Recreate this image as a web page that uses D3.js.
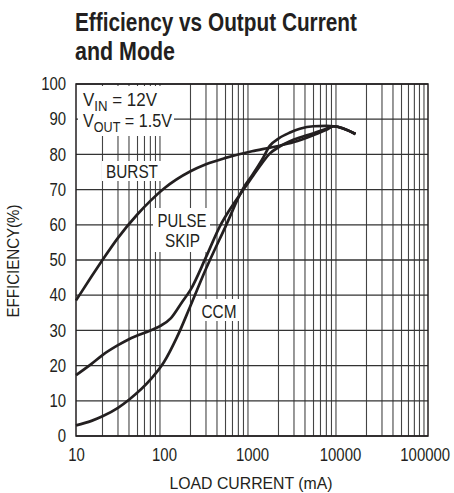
<!DOCTYPE html>
<html>
<head>
<meta charset="utf-8">
<script src="https://cdn.jsdelivr.net/npm/d3@7"></script>
<style>
  body { margin: 0; background: #fff; }
  text { font-family: "Liberation Sans Narrow", "Arial Narrow", "Liberation Sans", sans-serif; fill: #231f20; }
  .title { font-weight: bold; font-size: 26px; }
</style>
</head>
<body>
<div id="chart"></div>
<script>
"use strict";

// values (x = load current mA, y = efficiency %)
var burstCurrent = [10, 15, 20, 30, 50, 70, 100, 200, 300, 500, 1000, 1600, 2000, 3000, 5000, 7000, 8500, 15000];
var burstEff     = [38.5, 45.3, 50, 56.3, 63, 66.8, 70.3, 75.2, 77.2, 79, 80.9, 81.9, 82.4, 83.5, 85.5, 87, 88, 85.8];

var pulseCurrent = [10, 15, 20, 30, 40, 70, 90, 120, 160, 200, 300, 430, 600, 800, 1000, 1300, 1600, 2000, 3000, 5000, 7000, 8500, 15000];
var pulseEff     = [17.3, 20.5, 23, 25.8, 27.5, 30, 31.2, 33.5, 38, 41.5, 50.8, 59.5, 65.5, 70, 73.5, 77.5, 80.3, 82, 84.2, 86, 87.3, 88, 85.8];

var ccmCurrent = [10, 15, 20, 30, 40, 70, 100, 140, 200, 300, 500, 800, 1000, 1300, 1600, 2000, 2700, 3500, 5000, 7000, 8500, 15000];
var ccmEff     = [3, 4.3, 5.6, 8, 10.3, 16, 21, 28, 37, 47.5, 59.5, 70.5, 74, 78.5, 82.5, 84.5, 86.2, 87.3, 88, 88.1, 88, 85.8];

var xTicks = [10, 100, 1000, 10000, 100000];
var yTicks = [0, 10, 20, 30, 40, 50, 60, 70, 80, 90, 100];

var margin = {top: 84, right: 26, bottom: 57, left: 76};
var W = 454, H = 493;
var width = W - margin.left - margin.right;
var height = H - margin.top - margin.bottom;

var svg = d3.select("#chart").append("svg")
    .attr("width", W)
    .attr("height", H);

// title
svg.append("text").attr("class", "title")
    .attr("x", 75).attr("y", 31)
    .attr("textLength", 282).attr("lengthAdjust", "spacingAndGlyphs")
    .text("Efficiency vs Output Current");
svg.append("text").attr("class", "title")
    .attr("x", 75).attr("y", 60)
    .attr("textLength", 100).attr("lengthAdjust", "spacingAndGlyphs")
    .text("and Mode");

var g = svg.append("g")
    .attr("transform", "translate(" + margin.left + "," + margin.top + ")");

var x = d3.scaleLog().domain([10, 100000]).range([0, width]);
var y = d3.scaleLinear().domain([0, 100]).range([height, 0]);

// minor + major vertical grid lines
var vLines = [];
for (var dec = 10; dec < 100000; dec *= 10) {
  for (var k = 2; k <= 9; k++) vLines.push(dec * k);
}
g.selectAll(".vgrid").data(vLines).enter().append("line")
    .attr("x1", function(d) { return x(d); })
    .attr("x2", function(d) { return x(d); })
    .attr("y1", 0).attr("y2", height)
    .attr("stroke", "#444").attr("stroke-width", 1.1);

g.selectAll(".hgrid").data(yTicks).enter().append("line")
    .attr("x1", 0).attr("x2", width)
    .attr("y1", function(d) { return y(d); })
    .attr("y2", function(d) { return y(d); })
    .attr("stroke", "#333").attr("stroke-width", 1.3);

// label boxes knock out the grid
function box(x0, y0, w, h) {
  g.append("rect").attr("x", x0 - margin.left).attr("y", y0 - margin.top)
    .attr("width", w).attr("height", h).attr("fill", "#fff");
}
box(78, 86, 96, 50);
box(102, 161, 60, 20);
box(153, 208, 57, 44);
box(198, 299, 42, 22);

// frame
g.append("rect").attr("width", width).attr("height", height)
    .attr("fill", "none").attr("stroke", "#231f20").attr("stroke-width", 1.5);

// axes: squeeze labels horizontally for the condensed look
var xAxis = d3.axisBottom(x).tickValues(xTicks).tickFormat(d3.format("d")).tickSize(0).tickPadding(12);
var yAxis = d3.axisLeft(y).tickValues(yTicks).tickSize(0).tickPadding(12);

var gx = g.append("g").attr("transform", "translate(0," + height + ")").call(xAxis);
var gy = g.append("g").call(yAxis);
gx.select(".domain").remove();
gy.select(".domain").remove();
[gx, gy].forEach(function(a) {
  a.selectAll("text")
      .style("font-size", "18px")
      .attr("fill", "#231f20")
      .attr("transform", "scale(0.83,1)");
});
// last x label sits a bit left of its gridline, as in the original
gx.selectAll("text").filter(function(d) { return d === 100000; }).attr("dx", -4);

// axis titles
svg.append("text")
    .attr("x", 251).attr("y", 489)
    .attr("text-anchor", "middle")
    .attr("textLength", 163).attr("lengthAdjust", "spacingAndGlyphs")
    .style("font-size", "17px")
    .text("LOAD CURRENT (mA)");
svg.append("text")
    .attr("transform", "translate(19,261) rotate(-90)")
    .attr("text-anchor", "middle")
    .attr("textLength", 113).attr("lengthAdjust", "spacingAndGlyphs")
    .style("font-size", "17px")
    .text("EFFICIENCY(%)");

// curves
var line = d3.line()
    .x(function(d) { return x(d[0]); })
    .y(function(d) { return y(d[1]); })
    .curve(d3.curveMonotoneX);

[[burstCurrent, burstEff], [pulseCurrent, pulseEff], [ccmCurrent, ccmEff]].forEach(function(s) {
  var pts = s[0].map(function(c, i) { return [c, s[1][i]]; });
  g.append("path")
      .attr("d", line(pts))
      .attr("fill", "none")
      .attr("stroke", "#231f20")
      .attr("stroke-width", 2.7)
      .attr("stroke-linejoin", "round");
});

// annotations
function label(txt, lx, ly, len) {
  svg.append("text").attr("x", lx).attr("y", ly).attr("text-anchor", "middle")
      .style("font-size", "18px")
      .attr("textLength", len).attr("lengthAdjust", "spacingAndGlyphs")
      .text(txt);
}

var vin = svg.append("text").attr("x", 83).attr("y", 106).style("font-size", "18px");
vin.append("tspan").text("V");
vin.append("tspan").attr("dy", 5).style("font-size", "14px").text("IN");
vin.append("tspan").attr("dy", -5).text(" = 12V");

var vout = svg.append("text").attr("x", 83).attr("y", 127).style("font-size", "18px");
vout.append("tspan").text("V");
vout.append("tspan").attr("dy", 5).style("font-size", "14px").text("OUT");
vout.append("tspan").attr("dy", -5).text(" = 1.5V");
vin.attr("textLength", 74).attr("lengthAdjust", "spacingAndGlyphs");
vout.attr("textLength", 89).attr("lengthAdjust", "spacingAndGlyphs");

label("BURST", 132, 178, 52);
label("PULSE", 182, 227, 49);
label("SKIP", 182.5, 247, 35);
label("CCM", 219, 318, 35);
</script>
</body>
</html>
